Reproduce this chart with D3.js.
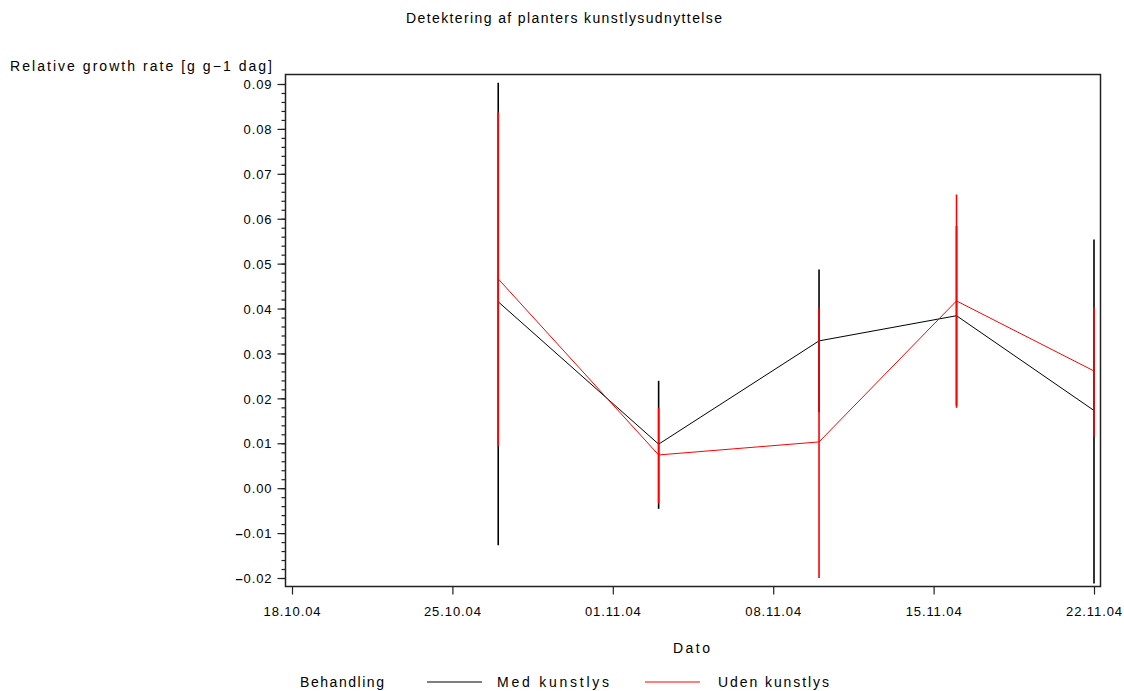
<!DOCTYPE html>
<html>
<head>
<meta charset="utf-8">
<script src="https://cdn.jsdelivr.net/npm/d3@7"></script>
<style>
  body { margin: 0; background: #fff; }
  text { font-family: "Liberation Sans", Arial, sans-serif; font-size: 13px; fill: #000; letter-spacing: 0.9px; }
  text.lbl { font-size: 14px; letter-spacing: 0px; }
  tspan.neg { font-weight: bold; }
</style>
</head>
<body>
<svg id="chart" width="1124" height="691"></svg>
<script>
// Measurement dates and relative growth rate per treatment (mean with low/high bar ends)
const dates = ["27.10.04", "03.11.04", "10.11.04", "16.11.04", "22.11.04"];

const medMean = [0.0415, 0.0098, 0.0328, 0.0384, 0.0173];
const medLow  = [-0.0127, -0.0046, 0.0169, 0.0184, -0.0212];
const medHigh = [0.0903, 0.0239, 0.0487, 0.0584, 0.0554];

const udenMean = [0.0466, 0.0074, 0.0103, 0.0417, 0.0261];
const udenLow  = [0.0094, -0.0033, -0.0200, 0.0179, 0.0115];
const udenHigh = [0.0837, 0.0179, 0.0402, 0.0654, 0.0403];

const xTickLabels = ["18.10.04", "25.10.04", "01.11.04", "08.11.04", "15.11.04", "22.11.04"];
const yTickValues = [-0.02, -0.01, 0.00, 0.01, 0.02, 0.03, 0.04, 0.05, 0.06, 0.07, 0.08, 0.09];

const seriesNames = ["Med kunstlys", "Uden kunstlys"];
const seriesColors = ["#000000", "#ff0000"];

const parse = d3.timeParse("%d.%m.%y");
const fmt = d3.timeFormat("%d.%m.%y");

const svg = d3.select("#chart");

// Wide-set label text
function label(sel, px, py, str, width) {
  return sel.append("text")
    .attr("class", "lbl")
    .attr("x", px).attr("y", py)
    .attr("textLength", width)
    .attr("lengthAdjust", "spacing")
    .text(str);
}

// Plot frame and scales
const frame = { left: 285.5, right: 1100.5, top: 74.5, bottom: 586.5 };
const x = d3.scaleTime()
  .domain([parse(xTickLabels[0]), parse(xTickLabels[xTickLabels.length - 1])])
  .range([292, 1094]);
const y = d3.scaleLinear()
  .domain([yTickValues[0], yTickValues[yTickValues.length - 1]])
  .range([578, 84]);

// Title
label(svg, 406, 23, "Detektering af planters kunstlysudnyttelse", 316);

// Y axis label
label(svg, 10, 71, "Relative growth rate [g g\u22121 dag]", 262);

// Minor y ticks
const minorTicks = d3.range(-20, 91, 2).map(v => v / 1000);
svg.append("g")
  .attr("transform", `translate(${frame.left},0)`)
  .call(d3.axisLeft(y).tickValues(minorTicks).tickSize(4).tickFormat(""))
  .call(g => g.select(".domain").remove())
  .call(g => g.selectAll("line").attr("stroke", "#222").attr("stroke-width", 1.2));

// Major y ticks; negative labels get a heavy dash
svg.append("g")
  .attr("transform", `translate(${frame.left},0)`)
  .call(d3.axisLeft(y).tickValues(yTickValues).tickSize(8).tickPadding(5).tickFormat(d => Math.abs(d).toFixed(2)))
  .call(g => g.select(".domain").remove())
  .call(g => g.selectAll("line").attr("stroke", "#222").attr("stroke-width", 1.2))
  .call(g => g.selectAll("text").attr("font-size", null).attr("font-family", null).attr("dy", "0.36em"))
  .call(g => g.selectAll(".tick").filter(d => d < 0).select("text")
    .each(function(d) {
      const t = d3.select(this);
      t.text(null);
      t.append("tspan").attr("class", "neg").text("\u2013");
      t.append("tspan").text(Math.abs(d).toFixed(2));
    }));

// X axis
svg.append("g")
  .attr("transform", `translate(0,${frame.bottom})`)
  .call(d3.axisBottom(x).tickValues(xTickLabels.map(parse)).tickSize(8).tickPadding(12).tickFormat(fmt))
  .call(g => g.select(".domain").remove())
  .call(g => g.selectAll("line").attr("stroke", "#222").attr("stroke-width", 1.2))
  .call(g => g.selectAll("text").attr("font-size", null).attr("font-family", null));

// X axis label
label(svg, 673, 653, "Dato", 37);

// Frame
svg.append("rect")
  .attr("x", frame.left).attr("y", frame.top)
  .attr("width", frame.right - frame.left).attr("height", frame.bottom - frame.top)
  .attr("fill", "none").attr("stroke", "#222").attr("stroke-width", 1.5);

// Series
const series = [
  { mean: medMean, low: medLow, high: medHigh },
  { mean: udenMean, low: udenLow, high: udenHigh }
];

const line = d3.line().x(d => x(d.date)).y(d => y(d.v));

series.forEach((s, i) => {
  const pts = dates.map((d, j) => ({ date: parse(d), v: s.mean[j], lo: s.low[j], hi: s.high[j] }));
  const g = svg.append("g");
  g.selectAll("line.bar").data(pts).join("line")
    .attr("class", "bar")
    .attr("x1", d => x(d.date)).attr("x2", d => x(d.date))
    .attr("y1", d => y(d.lo)).attr("y2", d => y(d.hi))
    .attr("stroke", seriesColors[i]).attr("stroke-width", 1.6);
  g.append("path")
    .attr("d", line(pts))
    .attr("fill", "none")
    .attr("stroke", seriesColors[i]).attr("stroke-width", 1);
});

// Legend
const legend = svg.append("g");
label(legend, 300, 687, "Behandling", 84);
const legendItems = [
  { x1: 427, x2: 482, tx: 497, w: 112 },
  { x1: 645, x2: 700, tx: 718, w: 111 }
];
legendItems.forEach((it, i) => {
  legend.append("line")
    .attr("x1", it.x1).attr("x2", it.x2).attr("y1", 682).attr("y2", 682)
    .attr("stroke", seriesColors[i]).attr("stroke-width", 1.2);
  label(legend, it.tx, 687, seriesNames[i], it.w);
});
</script>
</body>
</html>
